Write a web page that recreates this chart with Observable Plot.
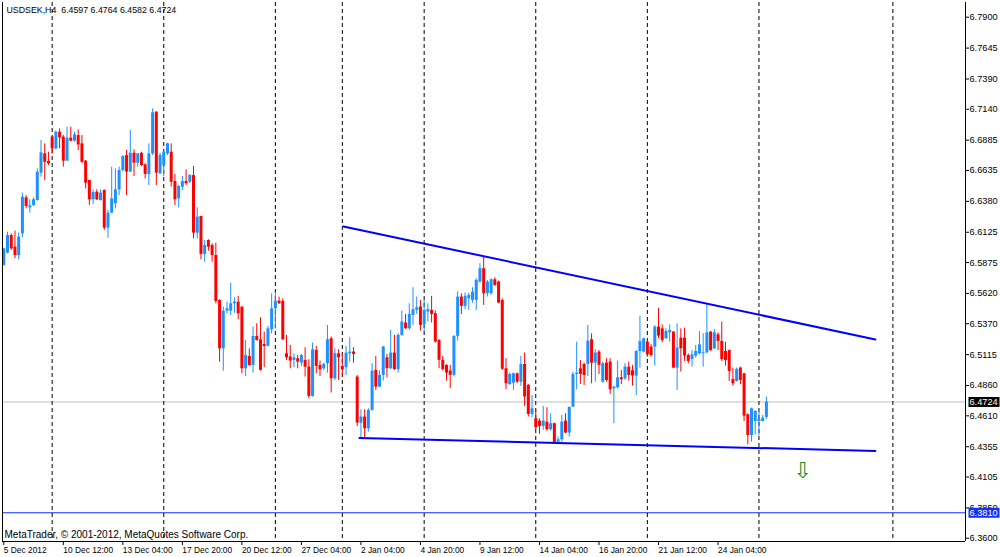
<!DOCTYPE html>
<html><head><meta charset="utf-8">
<script src="https://cdn.jsdelivr.net/npm/d3@7"></script>
<script src="https://cdn.jsdelivr.net/npm/@observablehq/plot@0.6"></script>
<style>html,body{margin:0;padding:0;background:#fff;} svg{display:block;}</style>
</head><body><div id="chart"></div>
<script>
const symbol = "USDSEK";
const timeframe = "H4";
const open = [6.5851,6.5953,6.6098,6.6002,6.5933,6.6112,6.6409,6.6327,6.6346,6.6387,6.6613,6.6772,6.6709,6.6910,6.6813,6.6951,6.6910,6.6712,6.6901,6.6877,6.6923,6.6855,6.6712,6.6552,6.6393,6.6456,6.6387,6.6470,6.6159,6.6283,6.6360,6.6475,6.6635,
6.6758,6.6621,6.6777,6.6695,6.6777,6.6681,6.6602,6.6772,6.7116,6.6607,6.6676,6.6772,6.6786,6.6544,6.6401,6.6497,6.6544,6.6538,6.6593,6.6118,6.6255,6.5942,6.6057,6.6016,6.5933,6.5562,6.5163,6.5474,6.5474,6.5535,6.5548,6.5507,6.4998,6.5100,6.5026,
6.5265,6.5237,6.5199,6.5183,6.5320,6.5493,6.5557,6.5554,6.5122,6.5095,6.5067,6.5081,6.5045,6.5067,6.5012,6.4770,6.5150,6.5026,6.4998,6.5040,6.5246,6.4916,6.5122,6.5018,6.5007,6.5122,6.5136,6.4930,6.4550,6.4600,6.4503,6.4655,6.4985,6.4847,
6.4944,6.5089,6.4999,6.5128,6.4991,6.5274,6.5376,6.5329,6.5439,6.5480,6.5508,6.5364,6.5466,6.5480,6.5453,6.5233,6.5068,6.5026,6.4980,6.4944,6.5266,6.5590,6.5513,6.5576,6.5563,6.5563,6.5714,6.5824,6.5618,6.5618,6.5733,6.5714,6.5562,
6.4998,6.4869,6.4880,6.4957,6.4888,6.5034,6.4861,6.4622,6.4586,6.4567,6.4523,6.4558,6.4495,6.4545,6.4393,6.4412,6.4567,6.4468,6.4682,6.4952,6.4998,6.5034,6.5034,6.5238,6.5045,6.5136,6.4888,6.5045,6.5053,6.4833,6.4842,6.4924,6.4916,6.5012,
6.4982,6.4938,6.5141,6.5136,6.5218,6.5177,6.5177,6.5342,6.5328,6.5246,6.5295,6.5301,6.5004,6.5251,6.5251,6.5108,6.5075,6.5103,6.5122,6.5122,6.5130,6.5301,6.5163,6.5279,6.5224,6.5141,6.5149,6.4910,6.4894,6.5004,6.4957,6.4619,6.4448,6.4564,6.4564,6.4564,6.4597];
const high = [6.5994,6.6126,6.6112,6.6134,6.6118,6.6448,6.6428,6.6393,6.6406,6.6648,6.6882,6.6855,6.6786,6.6915,6.6959,6.6978,6.6923,6.6992,6.6992,6.6951,6.6970,6.6923,6.6717,6.6552,6.6475,6.6475,6.6475,6.6475,6.6305,6.6662,6.6648,6.6662,6.6758,
6.6800,6.6965,6.6805,6.6775,6.6786,6.6690,6.6855,6.7143,6.7120,6.6777,6.6790,6.6860,6.6855,6.6602,6.6511,6.6585,6.6640,6.6602,6.6668,6.6327,6.6258,6.6057,6.6063,6.6030,6.6035,6.5567,6.5507,6.5548,6.5705,6.5584,6.5595,6.5510,6.5232,6.5163,6.5342,
6.5370,6.5419,6.5301,6.5348,6.5617,6.5631,6.5590,6.5576,6.5273,6.5191,6.5122,6.5108,6.5117,6.5172,6.5073,6.5210,6.5183,6.5062,6.5045,6.5356,6.5260,6.5163,6.5155,6.5117,6.5183,6.5254,6.5172,6.4943,6.4660,6.4660,6.4668,6.5040,6.5100,6.4980,
6.5183,6.5117,6.5315,6.5274,6.5288,6.5475,6.5447,6.5535,6.5667,6.5590,6.5563,6.5563,6.5535,6.5596,6.5475,6.5238,6.5100,6.5030,6.5026,6.5270,6.5631,6.5617,6.5623,6.5623,6.5667,6.5741,6.5865,6.5920,6.5728,6.5741,6.5750,6.5722,6.5576,
6.5081,6.4963,6.4963,6.4963,6.5100,6.5128,6.4869,6.4778,6.4655,6.4586,6.4688,6.4677,6.4627,6.4550,6.4435,6.4613,6.4627,6.4682,6.4971,6.5218,6.5067,6.5045,6.5356,6.5287,6.5155,6.5150,6.5053,6.5081,6.5081,6.4853,6.5062,6.4985,6.5040,6.5053,
6.5026,6.5149,6.5433,6.5251,6.5232,6.5196,6.5356,6.5498,6.5361,6.5328,6.5361,6.5305,6.5369,6.5328,6.5334,6.5122,6.5149,6.5191,6.5306,6.5287,6.5526,6.5306,6.5323,6.5295,6.5383,6.5218,6.5152,6.5004,6.5004,6.5012,6.4960,6.4627,6.4674,6.4654,6.4646,6.4613,6.4764];
const low = [6.5845,6.5947,6.5975,6.5906,6.5898,6.6079,6.6318,6.6282,6.6338,6.6382,6.6580,6.6552,6.6676,6.6772,6.6805,6.6813,6.6662,6.6712,6.6871,6.6868,6.6800,6.6690,6.6483,6.6346,6.6354,6.6387,6.6382,6.6140,6.6076,6.6277,6.6318,6.6428,6.6621,
6.6428,6.6621,6.6585,6.6662,6.6668,6.6566,6.6511,6.6758,6.6511,6.6602,6.6585,6.6758,6.6497,6.6346,6.6327,6.6470,6.6511,6.6525,6.6071,6.6071,6.5898,6.5878,6.5969,6.5878,6.5535,6.5053,6.4979,6.5452,6.5438,6.5457,6.5402,6.4957,6.4935,6.5018,6.4963,
6.5227,6.4979,6.5007,6.5180,6.5287,6.5328,6.5529,6.5232,6.5067,6.4998,6.5007,6.4998,6.5018,6.4930,6.4751,6.4765,6.4957,6.4935,6.4985,6.4962,6.4798,6.4902,6.4902,6.4943,6.4943,6.5053,6.5045,6.4523,6.4429,6.4421,6.4476,6.4649,6.4820,6.4842,
6.4897,6.4925,6.4991,6.4985,6.4963,6.5266,6.5321,6.5315,6.5356,6.5447,6.5310,6.5301,6.5384,6.5376,6.5211,6.4999,6.4980,6.4897,6.4834,6.4930,6.5227,6.5447,6.5486,6.5480,6.5540,6.5480,6.5705,6.5521,6.5590,6.5604,6.5678,6.5535,6.4985,
6.4825,6.4861,6.4820,6.4875,6.4853,6.4688,6.4600,6.4594,6.4495,6.4457,6.4490,6.4484,6.4484,6.4374,6.4374,6.4393,6.4462,6.4435,6.4677,6.4825,6.4869,6.4861,6.4935,6.4875,6.4888,6.4952,6.4880,6.4888,6.4787,6.4545,6.4833,6.4869,6.4902,6.4897,
6.4855,6.4778,6.5004,6.5130,6.5094,6.5094,6.5020,6.5246,6.5213,6.5240,6.5218,6.4998,6.4819,6.4971,6.5059,6.5040,6.5012,6.5086,6.5114,6.5012,6.5122,6.5141,6.5158,6.5149,6.5059,6.5020,6.4894,6.4855,6.4888,6.4866,6.4564,6.4371,6.4393,6.4454,6.4443,6.4558,6.4582];
const close = [6.5988,6.6098,6.5988,6.5933,6.6085,6.6415,6.6338,6.6343,6.6393,6.6621,6.6780,6.6703,6.6690,6.6813,6.6951,6.6904,6.6712,6.6901,6.6877,6.6929,6.6846,6.6703,6.6530,6.6393,6.6453,6.6393,6.6448,6.6159,6.6283,6.6400,6.6475,6.6635,6.6750,
6.6621,6.6777,6.6695,6.6772,6.6676,6.6602,6.6772,6.7110,6.6613,6.6758,6.6786,6.6855,6.6538,6.6393,6.6503,6.6544,6.6525,6.6593,6.6118,6.6250,6.5942,6.6016,6.6002,6.5933,6.5554,6.5163,6.5474,6.5493,6.5535,6.5548,6.5452,6.4998,6.5108,6.5026,6.5265,
6.5232,6.4985,6.5183,6.5328,6.5493,6.5557,6.5535,6.5238,6.5089,6.5062,6.5089,6.5053,6.5108,6.5012,6.4770,6.5155,6.5018,6.4990,6.5034,6.5238,6.4916,6.5122,6.5089,6.4990,6.5128,6.5136,6.5117,6.4550,6.4600,6.4503,6.4655,6.4979,6.4847,6.4944,
6.5178,6.4999,6.5128,6.4991,6.5274,6.5384,6.5329,6.5447,6.5486,6.5502,6.5356,6.5480,6.5486,6.5447,6.5219,6.5068,6.4991,6.4963,6.4944,6.5266,6.5590,6.5513,6.5596,6.5604,6.5631,6.5728,6.5824,6.5618,6.5714,6.5733,6.5686,6.5541,6.4995,
6.4875,6.4952,6.4957,6.4888,6.5034,6.4765,6.4622,6.4668,6.4512,6.4523,6.4567,6.4495,6.4545,6.4378,6.4412,6.4558,6.4468,6.4680,6.4952,6.4963,6.4952,6.4943,6.5227,6.5045,6.5128,6.5026,6.5040,6.4902,6.4825,6.4847,6.4924,6.4908,6.5012,6.4943,
6.4938,6.5141,6.5223,6.5246,6.5114,6.5108,6.5342,6.5268,6.5232,6.5306,6.5314,6.5004,6.5169,6.5163,6.5103,6.5059,6.5114,6.5141,6.5196,6.5130,6.5295,6.5149,6.5295,6.5224,6.5075,6.5067,6.4976,6.4874,6.4993,6.4902,6.4608,6.4448,6.4668,6.4646,6.4580,6.4591,6.4724];

const xTickIndex = [1,17,33,49,65,81,97,113,129,145,161,177,193];
const xTickLabels = ["5 Dec 2012","10 Dec 12:00","13 Dec 04:00","17 Dec 20:00","20 Dec 12:00","27 Dec 04:00","2 Jan 04:00","4 Jan 20:00","9 Jan 12:00","14 Jan 04:00","16 Jan 20:00","21 Jan 12:00","24 Jan 04:00"];
const yTicks = [6.7900,6.7645,6.7390,6.7140,6.6885,6.6635,6.6380,6.6125,6.5875,6.5620,6.5370,6.5115,6.4860,6.4610,6.4355,6.4105,6.3850,6.3600];
const gridIndex = [14,44,74,92,114,144,174,204,240];
const supportLevel = [6.3810];
const upperTrendX = [92.3, 235.3];
const upperTrendY = [6.6173, 6.5240];
const lowerTrendX = [96.6, 235.3];
const lowerTrendY = [6.4427, 6.4320];
const arrowX = [215.7];
const arrowY = [6.4159];
const xDomain = [0.65, 259.52];
const yDomain = [6.35728, 6.80213];
const copyright = "MetaTrader, © 2001-2012, MetaQuotes Software Corp.";

const UP = "#1e90ff", DOWN = "#ff0000";
const n = close.length;
const candles = close.map((c, k) => ({i: k + 1, o: open[k], h: high[k], l: low[k], c, col: c >= open[k] ? UP : DOWN}));
const last = candles[n - 1];
const lastPrice = [last.c];
const title = `${symbol},${timeframe}\u00a0 ${last.o.toFixed(4)} ${last.h.toFixed(4)} ${last.l.toFixed(4)} ${last.c.toFixed(4)}`;
const labelMap = new Map(xTickIndex.map((d, k) => [d, xTickLabels[k]]));
const boxSymbol = {draw(ctx) { ctx.moveTo(-15, -5); ctx.lineTo(16, -5); ctx.lineTo(16, 5); ctx.lineTo(-15, 5); ctx.closePath(); }};

const chart = Plot.plot({
  width: 1000, height: 557,
  marginLeft: 2, marginRight: 35, marginTop: 2, marginBottom: 16,
  x: {domain: xDomain},
  y: {domain: yDomain},
  color: {type: "identity"},
  style: {fontFamily: "'Liberation Sans', Arial, sans-serif", background: "#fff", color: "#000", overflow: "visible"},
  marks: [
    Plot.ruleY(lastPrice, {stroke: "#c0c0c0"}),
    Plot.ruleY(supportLevel, {stroke: "#1030ff"}),
    Plot.ruleX(gridIndex, {stroke: "#000", strokeDasharray: "4,3"}),
    Plot.ruleX(candles, {x: "i", y1: "l", y2: "h", stroke: "col", strokeWidth: 1}),
    Plot.ruleX(candles, {x: "i", y1: "o", y2: "c", stroke: "col", strokeWidth: 3}),
    Plot.line({length: 2}, {x: upperTrendX, y: upperTrendY, stroke: "#0000ff", strokeWidth: 2}),
    Plot.line({length: 2}, {x: lowerTrendX, y: lowerTrendY, stroke: "#0000ff", strokeWidth: 2}),
    Plot.text({length: 1}, {x: arrowX, y: arrowY, text: ["\u21e9"], fill: "#228b22", fontSize: 22, fontFamily: "DejaVu Sans"}),
    Plot.ruleX([xDomain[0], xDomain[1]], {stroke: "#000"}),
    Plot.ruleY([yDomain[0]], {stroke: "#000"}),
    Plot.axisX({ticks: xTickIndex, tickSize: 4, tickPadding: 2, tickFormat: d => labelMap.get(d), textAnchor: "start", dx: 0, fontSize: 8.4, label: null}),
    Plot.axisY({anchor: "right", ticks: yTicks, tickSize: 3, tickPadding: 1, tickFormat: d => d.toFixed(4), fontSize: 9.2, label: null}),
    Plot.dot(lastPrice, {y: d => d, frameAnchor: "right", dx: 18, symbol: boxSymbol, fill: "#000", r: 5}),
    Plot.text(lastPrice, {y: d => d, frameAnchor: "right", dx: 4, textAnchor: "start", text: d => d.toFixed(4), fill: "#fff", fontSize: 9.2}),
    Plot.dot(supportLevel, {y: d => d, frameAnchor: "right", dx: 18, symbol: boxSymbol, fill: "#1030ff", r: 5}),
    Plot.text(supportLevel, {y: d => d, frameAnchor: "right", dx: 4, textAnchor: "start", text: d => d.toFixed(4), fill: "#fff", fontSize: 9.2}),
    Plot.text([title], {frameAnchor: "top-left", dx: 4, dy: 10.5, lineAnchor: "bottom", textAnchor: "start", text: d => d, fontSize: 8.8}),
    Plot.text([copyright], {frameAnchor: "bottom-left", dx: 2, dy: -4, lineAnchor: "bottom", textAnchor: "start", text: d => d, fontSize: 10})
  ]
});
document.getElementById("chart").append(chart);
</script>
</body></html>
